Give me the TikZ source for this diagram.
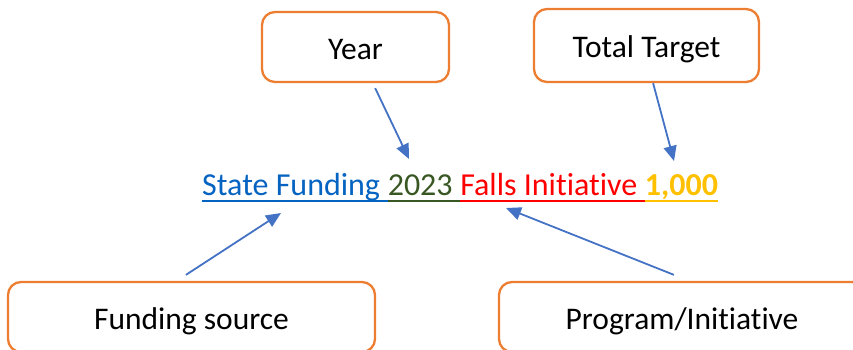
\documentclass[tikz,border=0pt]{standalone}
\usepackage{fontspec}
\setmainfont{Carlito}[Ligatures=NoCommon]
\usetikzlibrary{arrows.meta,calc}
\definecolor{boxorange}{HTML}{ED7D31}
\definecolor{arrowblue}{HTML}{4472C4}
\definecolor{txtblue}{HTML}{0563C1}
\definecolor{txtgreen}{HTML}{385723}
\definecolor{txtred}{HTML}{FF0000}
\definecolor{txtgold}{HTML}{FFC000}
\begin{document}
\begin{tikzpicture}[x=1pt,y=-1pt,
  labelbox/.style={draw=boxorange,line width=2.3pt,rounded corners=13pt,fill=white,
    inner sep=0pt,text height=25pt,text depth=1pt,font=\fontsize{31.5}{38}\selectfont},
  seg/.style={inner sep=0pt,anchor=base west,font=\fontsize{32}{38}\selectfont},
  uline/.style={line width=2pt},
  conn/.style={draw=arrowblue,line width=1.8pt,-{Triangle[length=15pt,width=13pt]}}]
\useasboundingbox (0,0) rectangle (853,349);
% boxes
\node[labelbox,minimum width=187pt,minimum height=70pt] (year) at (355.5,47) {Year};
\node[labelbox,minimum width=225pt,minimum height=73pt] (total) at (646.5,45.5) {Total Target};
\node[labelbox,minimum width=367pt,minimum height=70pt] (fund) at (191.5,317) {Funding source};
\node[labelbox,minimum width=366pt,minimum height=70pt] (prog) at (682,317) {Program/Initiative};
% text line
\node[seg,text=txtblue] (s1) at (202,195) {State Funding\ \null};
\node[seg,text=txtgreen] (s2) at (s1.base east) {2023\ \null};
\node[seg,text=txtred] (s3) at (s2.base east) {Falls Initiative\ \null};
\node[seg,text=txtgold] (s4) at (s3.base east) {\bfseries 1,000};
\draw[uline,txtblue] ($(s1.base west)+(0,6)$) -- ($(s1.base east)+(0,6)$);
\draw[uline,txtgreen] ($(s2.base west)+(0,6)$) -- ($(s2.base east)+(0,6)$);
\draw[uline,txtred] ($(s3.base west)+(0,6)$) -- ($(s3.base east)+(0,6)$);
\draw[uline,txtgold] ($(s4.base west)+(0,6)$) -- ($(s4.base east)+(0,6)$);
% arrow targets
\coordinate (tyear) at (409,159);
\coordinate (ttotal) at (674,161);
\coordinate (tfund) at (281,213);
\coordinate (tprog) at (506,208);
% connectors
\draw[conn] ($(year.south west)!0.604!(year.south east)+(0,5)$) -- (tyear);
\draw[conn] ($(total.south west)!0.529!(total.south east)$) -- (ttotal);
\draw[conn] ($(fund.north west)!0.485!(fund.north east)+(0,-6)$) -- (tfund);
\draw[conn] ($(prog.north west)!0.478!(prog.north east)+(0,-6)$) -- (tprog);
\end{tikzpicture}
\end{document}
